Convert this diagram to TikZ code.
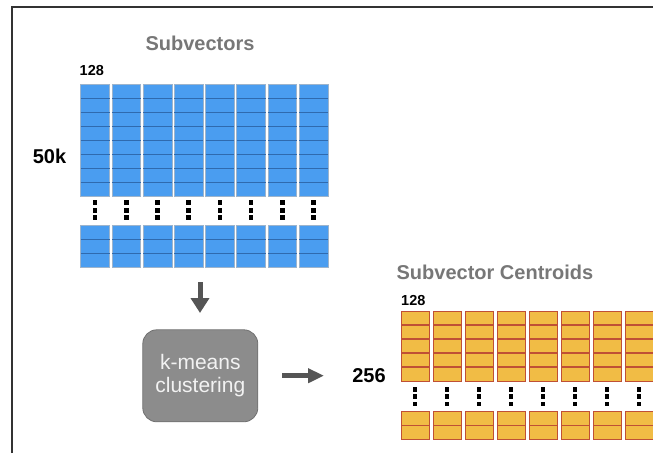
\documentclass[tikz,border=0pt]{standalone}
\usepackage{fontspec}
\setmainfont{Liberation Sans}
\usetikzlibrary{arrows.meta}
\definecolor{bluefill}{HTML}{4A9DF0}
\definecolor{bluediv}{HTML}{2F6AAE}
\definecolor{blueedge}{HTML}{9DB4CC}
\definecolor{orfill}{HTML}{F1BC45}
\definecolor{oredge}{HTML}{BF5035}
\definecolor{titlegray}{HTML}{777777}
\definecolor{boxgray}{HTML}{8C8C8C}
\definecolor{boxedge}{HTML}{707070}
\definecolor{arrowgray}{HTML}{555555}
\definecolor{framegray}{HTML}{333333}
\tikzset{
  titletext/.style={inner sep=0pt, text=titlegray, font=\fontsize{20}{24}\selectfont\bfseries},
  numtext/.style={inner sep=0pt, text=black, font=\fontsize{20}{24}\selectfont\bfseries},
  smalltext/.style={inner sep=0pt, text=black, font=\fontsize{14.5}{17}\selectfont\bfseries, anchor=west},
  bluecol/.style={fill=bluefill, draw=blueedge, line width=0.8pt},
  bluerow/.style={draw=bluediv, line width=1.1pt},
  orcol/.style={fill=orfill, draw=oredge, line width=1pt},
  orrow/.style={draw=oredge, line width=1.1pt},
  dotsq/.style={fill=black},
  bigarrow/.style={draw=arrowgray, line width=5pt, -{Triangle[length=15pt,width=18pt]}},
  procbox/.style={fill=boxgray, draw=boxedge, line width=0.8pt, rounded corners=14pt,
    minimum width=115pt, minimum height=92pt, inner sep=0pt, text=white!95!black,
    align=center, font=\fontsize{21}{23}\selectfont},
}
\begin{document}
\begin{tikzpicture}[x=1pt,y=-1pt]
\useasboundingbox (0,0) rectangle (653,453);
% frame
\draw[framegray, line width=1.3pt] (12,453) -- (12,7) -- (653,7);

% titles and labels
\node[titletext] (t1) at (200,43) {Subvectors};
\node[smalltext] (n1) at (79.5,71) {128};
\node[numtext] (n2) at (49.5,156) {50k};
\node[titletext] (t2) at (495,272.7) {Subvector Centroids};
\node[smalltext] (n3) at (401,300.7) {128};
\node[numtext] (n4) at (369,376) {256};

% blue subvector grid
\foreach \i in {0,...,7}{
  \pgfmathsetmacro{\xa}{80.7+31.2*\i}
  \pgfmathsetmacro{\xb}{\xa+28.8}
  \pgfmathsetmacro{\xc}{\xa+14.4}
  \draw[bluecol] (\xa,84.7) rectangle (\xb,196.7);
  \foreach \r in {1,...,7}{
    \draw[bluerow] (\xa,84.7+14*\r) -- (\xb,84.7+14*\r);
  }
  \draw[bluecol] (\xa,225) rectangle (\xb,267.3);
  \foreach \r in {1,2}{
    \draw[bluerow] (\xa,225+14.1*\r) -- (\xb,225+14.1*\r);
  }
  \foreach \d in {202.7,210.2,217.7}{
    \fill[dotsq] (\xc-2.3,\d-2.3) rectangle (\xc+2.3,\d+2.3);
  }
}

% orange centroid grid
\foreach \i in {0,...,7}{
  \pgfmathsetmacro{\xa}{401+32*\i}
  \pgfmathsetmacro{\xb}{\xa+28.3}
  \pgfmathsetmacro{\xc}{\xa+14.15}
  \draw[orcol] (\xa,311) rectangle (\xb,381);
  \foreach \r in {1,...,4}{
    \draw[orrow] (\xa,311+14*\r) -- (\xb,311+14*\r);
  }
  \draw[orcol] (\xa,411) rectangle (\xb,439.3);
  \draw[orrow] (\xa,425.2) -- (\xb,425.2);
  \foreach \d in {389.3,396.7,404}{
    \fill[dotsq] (\xc-2.3,\d-2.3) rectangle (\xc+2.3,\d+2.3);
  }
}

% k-means box
\node[procbox] (km) at (200.3,375.8) {k-means\\clustering};

% arrows
\coordinate (dstart) at (200,282);
\coordinate (dend) at (200,313);
\coordinate (rstart) at (282,375.7);
\coordinate (rend) at (324,375.7);
\draw[bigarrow] (dstart) -- (dend);
\draw[bigarrow, -{Triangle[length=16pt,width=14pt]}] (rstart) -- (rend);
\end{tikzpicture}
\end{document}
